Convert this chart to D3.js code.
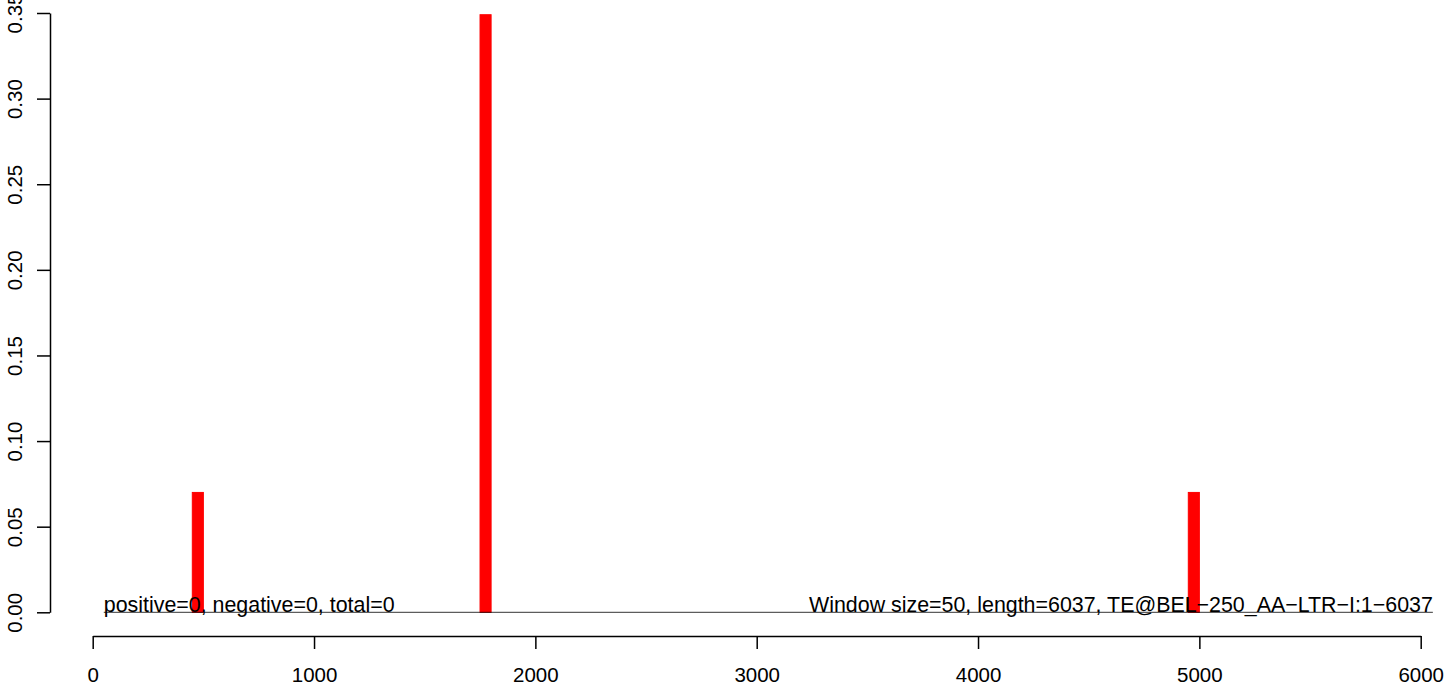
<!DOCTYPE html>
<html><head><meta charset="utf-8">
<script src="https://cdn.jsdelivr.net/npm/d3@7"></script>
<style>body{margin:0;background:#fff}svg{display:block}text{font-family:"Liberation Sans",Arial,sans-serif}</style>
</head><body>
<svg id="c" width="1447" height="687"></svg>
<script>
const binStart = [450, 1750, 4950];
const binValue = [0.07, 0.349, 0.07];
const windowSize = 50;
const xTicks = [0, 1000, 2000, 3000, 4000, 5000, 6000];
const yTicks = [0, 0.05, 0.10, 0.15, 0.20, 0.25, 0.30, 0.35];
const leftNote = "positive=0, negative=0, total=0";
const rightNote = "Window size=50, length=6037, TE@BEL\u2212250_AA\u2212LTR\u2212I:1\u22126037";

const svg = d3.select("#c");
const x = d3.scaleLinear().domain([0, 6000]).range([92.7, 1420.7]);
const y = d3.scaleLinear().domain([0, 0.35]).range([612.3, 13]);

// bars
svg.append("g").selectAll("rect").data(binStart).join("rect")
  .attr("x", d => x(d))
  .attr("width", d => x(d + windowSize) - x(d))
  .attr("y", (d, i) => y(binValue[i]))
  .attr("height", (d, i) => y(0) - y(binValue[i]))
  .attr("fill", "#ff0000").attr("stroke", "#ff0000").attr("stroke-width", 1);

// baseline
svg.append("line").attr("x1", x(50)).attr("x2", x(6055))
  .attr("y1", y(0)).attr("y2", y(0)).attr("stroke", "#000").attr("stroke-width", 0.8);

// notes
svg.append("text").attr("x", x(50)).attr("y", y(0) - 0.5).attr("font-size", 21.4)
  .attr("text-anchor", "start").text(leftNote);
svg.append("text").attr("x", x(6055)).attr("y", y(0) - 0.5).attr("font-size", 21.4)
  .attr("text-anchor", "end").text(rightNote);

// x axis
const xa = svg.append("g").attr("transform", "translate(0,636)")
  .call(d3.axisBottom(x).tickValues(xTicks).tickFormat(d3.format("d")).tickSize(13).tickSizeOuter(0));
xa.select(".domain").attr("stroke-width", 1.5);
xa.selectAll(".tick line").attr("stroke-width", 1.5);
xa.selectAll("text").attr("font-size", 20.5).attr("dy", null).attr("y", 46)
  .attr("font-family", "Liberation Sans, Arial, sans-serif");

// y axis
const ya = svg.append("g").attr("transform", "translate(50,0)")
  .call(d3.axisLeft(y).tickValues(yTicks).tickFormat(d3.format(".2f")).tickSize(13).tickSizeOuter(0));
ya.select(".domain").attr("stroke-width", 1.5);
ya.selectAll(".tick line").attr("stroke-width", 1.5);
ya.selectAll("text").attr("font-size", 20.5)
  .attr("font-family", "Liberation Sans, Arial, sans-serif")
  .attr("x", null).attr("dy", null)
  .attr("text-anchor", "middle")
  .attr("transform", "translate(-28.5,0) rotate(-90)")
  .attr("y", 0);
</script>
</body></html>
